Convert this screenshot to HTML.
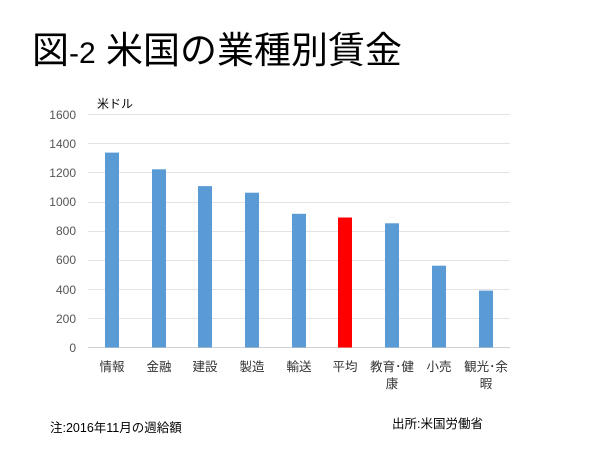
<!DOCTYPE html>
<html><head><meta charset="utf-8"><style>
body{margin:0;background:#fff;width:600px;height:450px;overflow:hidden;font-family:"Liberation Sans","Noto Sans CJK JP",sans-serif;}
</style></head><body>
<svg width="600" height="450" xmlns="http://www.w3.org/2000/svg" font-family="Liberation Sans, Noto Sans CJK JP, sans-serif">
<text x="32" y="63" font-size="37" fill="#000">図<tspan font-size="30">-2</tspan> 米国の業種別賃金</text>
<text x="97" y="108" font-size="12" fill="#000">米ドル</text>
<g stroke="#e3e3e3" stroke-width="1">
<line x1="88" x2="510" y1="114.5" y2="114.5"/><line x1="88" x2="510" y1="143.5" y2="143.5"/>
<line x1="88" x2="510" y1="172.5" y2="172.5"/><line x1="88" x2="510" y1="202.5" y2="202.5"/>
<line x1="88" x2="510" y1="231.5" y2="231.5"/><line x1="88" x2="510" y1="260.5" y2="260.5"/>
<line x1="88" x2="510" y1="289.5" y2="289.5"/><line x1="88" x2="510" y1="318.5" y2="318.5"/>
</g>
<line x1="88" x2="510" y1="347.5" y2="347.5" stroke="#d0d0d0"/>
<g font-size="12" fill="#555" text-anchor="end">
<text x="76" y="119">1600</text><text x="76" y="148">1400</text><text x="76" y="177">1200</text>
<text x="76" y="206">1000</text><text x="76" y="235">800</text><text x="76" y="264">600</text>
<text x="76" y="294">400</text><text x="76" y="323">200</text><text x="76" y="352">0</text>
</g>
<g fill="#5b9bd5">
<rect x="105" y="152.6" width="14" height="194.9"/>
<rect x="152" y="169.3" width="14" height="178.2"/>
<rect x="198" y="186.1" width="14" height="161.4"/>
<rect x="245" y="192.7" width="14" height="154.8"/>
<rect x="292" y="213.8" width="14" height="133.7"/>
<rect x="385" y="223.3" width="14" height="124.2"/>
<rect x="432" y="265.7" width="14" height="81.8"/>
<rect x="479" y="290.6" width="14" height="56.9"/>
</g>
<rect x="338" y="217.5" width="14" height="130" fill="#ff0000"/>
<g font-size="12.5" fill="#333" text-anchor="middle">
<text x="112" y="371">情報</text><text x="159" y="371">金融</text><text x="205" y="371">建設</text>
<text x="252" y="371">製造</text><text x="299" y="371">輸送</text><text x="345" y="371">平均</text>
<text x="392" y="371">教育･健</text><text x="392" y="388">康</text>
<text x="439" y="371">小売</text><text x="486" y="371">観光･余</text><text x="486" y="388">暇</text>
</g>
<text x="50" y="432" font-size="12.5" fill="#000">注:2016年11月の週給額</text>
<text x="392" y="428" font-size="12.5" fill="#000">出所:米国労働省</text>
</svg>
</body></html>
